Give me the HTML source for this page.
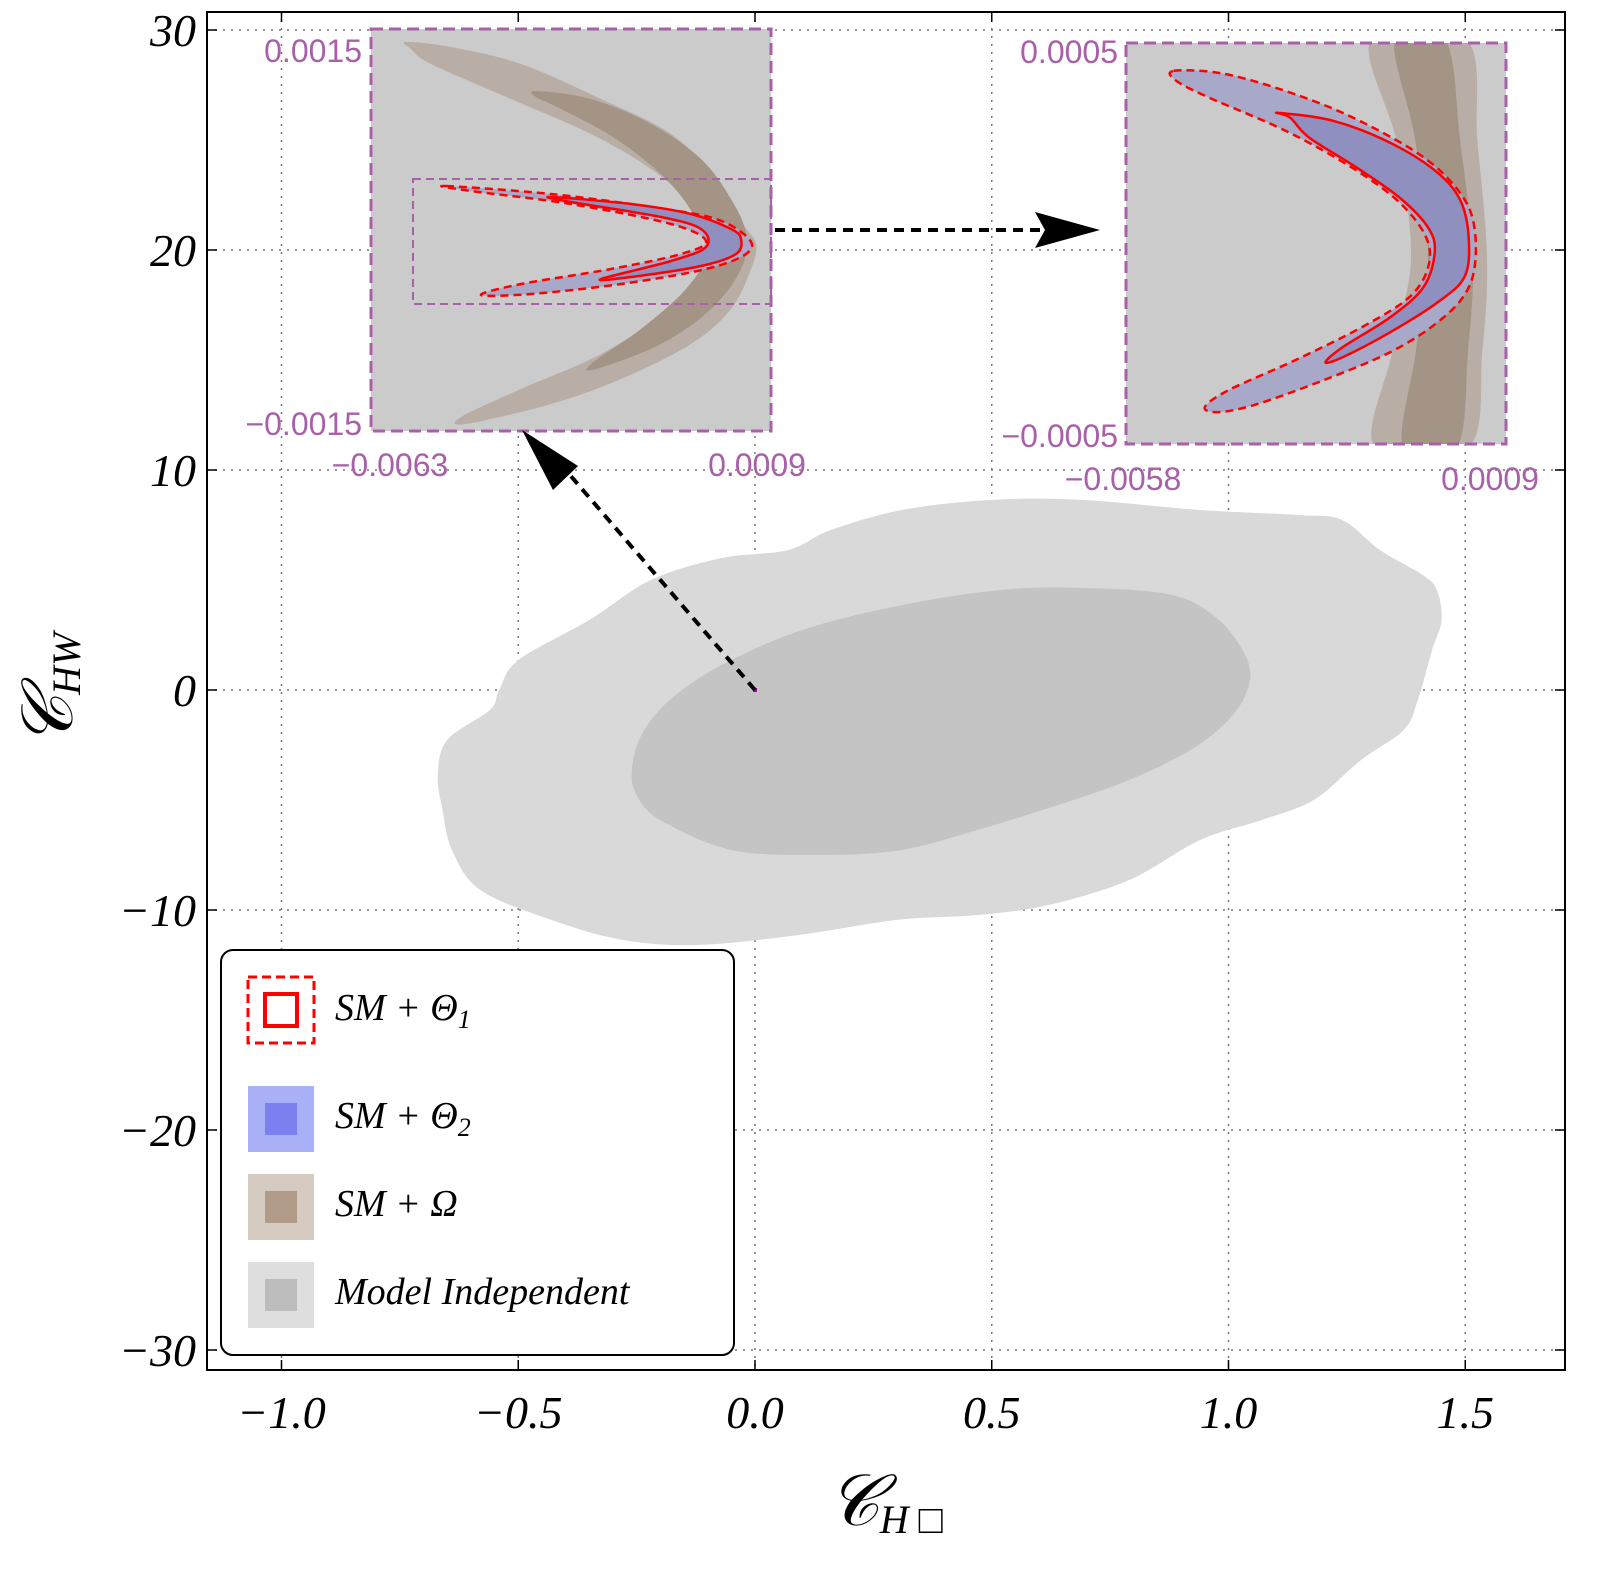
<!DOCTYPE html>
<html><head><meta charset="utf-8"><style>
body{margin:0;background:#fff;}
svg text{font-family:"Liberation Serif",serif;}
</style></head><body>
<svg id="chart" width="1600" height="1571" viewBox="0 0 1600 1571" xmlns="http://www.w3.org/2000/svg">
<g id="grid"></g>
<g id="main"></g>
<g id="inset1"></g>
<g id="inset2"></g>
<g id="axes"></g>
<g>
<line x1="755" y1="690" x2="557" y2="460" stroke="#000" stroke-width="4" stroke-dasharray="10,7"/>
<polygon points="522,430 578,466 553,490" fill="#000"/>
<line x1="775" y1="230" x2="1040" y2="230" stroke="#000" stroke-width="4" stroke-dasharray="10,7"/>
<polygon points="1100,230 1035,212 1045,230 1035,248" fill="#000"/>
</g>
<g>
<rect x="221" y="950" width="513" height="405" rx="12" fill="#fff" stroke="#000" stroke-width="2"/>
<rect x="248" y="977" width="66" height="66" fill="none" stroke="#f00" stroke-width="3" stroke-dasharray="9,5"/>
<rect x="265" y="994" width="32" height="32" fill="none" stroke="#f00" stroke-width="4"/>
<text x="335" y="1020" font-size="38" font-style="italic">SM + Θ<tspan font-size="26" dy="8">1</tspan></text>
<rect x="248" y="1086" width="66" height="66" fill="#aab0f5"/><rect x="265" y="1103" width="32" height="32" fill="#7b7ff0"/>
<text x="335" y="1128" font-size="38" font-style="italic">SM + Θ<tspan font-size="26" dy="8">2</tspan></text>
<rect x="248" y="1174" width="66" height="66" fill="#d6cbc0"/><rect x="265" y="1191" width="32" height="32" fill="#b09a88"/>
<text x="335" y="1216" font-size="38" font-style="italic">SM + Ω</text>
<rect x="248" y="1262" width="66" height="66" fill="#dedede"/><rect x="265" y="1279" width="32" height="32" fill="#bdbdbd"/>
<text x="335" y="1304" font-size="38" font-style="italic">Model Independent</text>
</g>
</svg>
<script>
const NS="http://www.w3.org/2000/svg";
const xTicks=[-1.0,-0.5,0.0,0.5,1.0,1.5];
const xTickLabels=["−1.0","−0.5","0.0","0.5","1.0","1.5"];
const yTicks=[-30,-20,-10,0,10,20,30];
const yTickLabels=["−30","−20","−10","0","10","20","30"];
// main contours [CHbox, CHW]
const outerX=[-0.67,-0.65,-0.56,-0.54,-0.5,-0.35,-0.22,-0.07,0.07,0.16,0.31,0.5,0.69,0.94,1.15,1.24,1.32,1.41,1.44,1.45,1.43,1.4,1.37,1.28,1.18,1.07,0.94,0.79,0.62,0.47,0.3,0.09,-0.12,-0.28,-0.43,-0.58,-0.64,-0.66];
const outerY=[-3.86,-2.27,-0.91,0,1.36,3.18,5,6,6.36,7.27,8.18,8.64,8.64,8.18,7.95,7.73,6.36,5.23,4.55,3.18,1.82,-0.45,-1.82,-3.18,-5,-5.91,-6.82,-8.64,-9.77,-10.23,-10.45,-11.14,-11.59,-11.36,-10.45,-9.09,-7.27,-5.45];
const innerX=[-0.26,-0.24,-0.18,-0.07,0.1,0.31,0.52,0.69,0.88,0.98,1.04,1.04,1.0,0.92,0.79,0.64,0.47,0.31,0.14,-0.05,-0.2,-0.25];
const innerY=[-3.64,-2.05,-0.45,1.14,2.73,3.86,4.55,4.64,4.32,3.18,1.36,0,-1.36,-2.73,-4.09,-5.23,-6.36,-7.27,-7.5,-7.27,-5.91,-4.77];
// inset contours in inset-local units (0..400)
const i1BrownOut=[[35,13],[80,18],[150,35],[230,70],[300,105],[345,150],[372,195],[385,215],[380,240],[360,280],[320,315],[250,350],[180,375],[95,395],[90,388],[150,360],[230,325],[300,280],[340,240],[345,215],[320,175],[280,140],[220,105],[140,70],[60,35],[40,20]];
const i1BrownIn=[[165,62],[220,70],[280,95],[330,130],[360,170],[375,205],[370,240],[340,280],[290,315],[225,340],[220,335],[270,300],[315,260],[335,225],[325,190],[295,150],[245,110],[190,80],[165,68]];
const i1Blue=[[75,157],[180,165],[280,178],[345,190],[378,210],[375,225],[335,240],[250,255],[160,265],[110,266],[150,255],[240,240],[310,225],[335,212],[300,195],[200,175],[100,162]];
const i1Red=[[180,168],[260,175],[320,185],[360,200],[370,210],[365,225],[330,237],[260,248],[230,250],[300,232],[335,218],[330,200],[290,188],[200,173]];
const i2BrownOut=[[258,-4],[358,-4],[370,100],[380,215],[375,310],[360,406],[262,406],[280,310],[300,215],[285,100]];
const i2BrownIn=[[283,-4],[336,-4],[352,100],[365,215],[360,310],[348,406],[292,406],[305,310],[318,215],[305,100]];
const i2Blue=[[50,28],[98,30],[158,45],[228,70],[298,105],[338,135],[363,170],[368,215],[358,250],[328,280],[278,310],[208,338],[138,362],[98,370],[83,365],[108,348],[178,318],[248,285],[298,255],[318,225],[316,195],[288,160],[238,125],[168,88],[88,55],[53,38]];
const i2Red=[[160,70],[218,78],[278,100],[328,130],[353,160],[361,200],[356,235],[328,260],[278,290],[228,315],[210,320],[228,305],[278,275],[313,245],[325,210],[318,185],[288,155],[243,125],[193,95],[173,75]];

const X0=207,X1=1565,Y0=12,Y1=1370;
const sx=v=>755+v*473.5, sy=v=>690-v*22;
function el(p,tag,attrs){const e=document.createElementNS(NS,tag);for(const k in attrs)e.setAttribute(k,attrs[k]);p.appendChild(e);return e;}
function smooth(P){const n=P.length;let d='M'+P[0][0]+','+P[0][1];
 for(let i=0;i<n;i++){const p0=P[(i-1+n)%n],p1=P[i],p2=P[(i+1)%n],p3=P[(i+2)%n];
 d+=' C'+(p1[0]+(p2[0]-p0[0])/6)+','+(p1[1]+(p2[1]-p0[1])/6)+' '+(p2[0]-(p3[0]-p1[0])/6)+','+(p2[1]-(p3[1]-p1[1])/6)+' '+p2[0]+','+p2[1];}
 return d+'Z';}
const grid=document.getElementById('grid'),axes=document.getElementById('axes'),main=document.getElementById('main');
xTicks.forEach(v=>{const l=el(grid,'line',{x1:sx(v),x2:sx(v),y1:Y0,y2:Y1,stroke:'#777','stroke-width':1.5,'stroke-dasharray':'2,6'});
});
yTicks.forEach(v=>{const l=el(grid,'line',{x1:X0,x2:X1,y1:sy(v),y2:sy(v),stroke:'#777','stroke-width':1.5,'stroke-dasharray':'2,6'});
});
function poly(p,xs,ys,fill,name){const pts=xs.map((x,i)=>[sx(x),sy(ys[i])]);const e=el(p,'path',{d:smooth(pts),fill:fill});
}
poly(main,outerX,outerY,'#d9d9d9','model-independent-outer');
poly(main,innerX,innerY,'#c4c4c4','model-independent-inner');
el(main,'rect',{x:753,y:688,width:4,height:4,fill:'#a0a'});
function inset(id,ox,oy,w,h,sets,inner){
 const g=document.getElementById(id);
 const r=el(g,'rect',{x:ox,y:oy,width:w,height:h,fill:'#cbcbcb'});
 
 const cp=el(g,'clipPath',{id:id+'-clip'});el(cp,'rect',{x:ox,y:oy,width:w,height:h});
 const cg=el(g,'g',{'clip-path':'url(#'+id+'-clip)'});
 const kx=w/400,ky=h/402;
 sets.forEach(([pts,fill,stroke,dash,sw,name])=>{const e=el(cg,'path',{d:smooth(pts.map(p=>[ox+p[0]*kx,oy+p[1]*ky])),fill:fill,stroke:stroke,'stroke-width':sw,'stroke-dasharray':dash,'stroke-linejoin':'round'});
 });
 if(inner){const e=el(g,'rect',{x:ox+42*kx,y:oy+150*ky,width:358*kx,height:125*ky,fill:'none',stroke:'#a860a8','stroke-width':2,'stroke-dasharray':'8,5'});
 }
 const b=el(g,'rect',{x:ox,y:oy,width:w,height:h,fill:'none',stroke:'#a860a8','stroke-width':3,'stroke-dasharray':'12,6'});
 
}
inset('inset1',371,29,400,402,[[i1BrownOut,'#b8aea5','none','',0,'omega-outer'],[i1BrownIn,'#a39486','none','',0,'omega-inner'],[i1Blue,'#a8a8c8','#f00','8,5',2.5,'theta1-outer'],[i1Red,'#8f8fc0','#f00','',2.5,'theta1-inner']],true);
inset('inset2',1126,43,380,401,[[i2BrownOut,'#b8aea5','none','',0,'omega-outer'],[i2BrownIn,'#a39486','none','',0,'omega-inner'],[i2Blue,'#a8a8c8','#f00','8,5',2.5,'theta1-outer'],[i2Red,'#8f8fc0','#f00','',2.5,'theta1-inner']],false);
const il=[[362,62,'0.0015','end'],[362,435,'−0.0015','end'],[390,476,'−0.0063','middle'],[757,476,'0.0009','middle'],[1118,63,'0.0005','end'],[1118,447,'−0.0005','end'],[1123,490,'−0.0058','middle'],[1490,490,'0.0009','middle']];
il.forEach(([x,y,t,a])=>{const e=el(axes,'text',{x:x,y:y,'font-size':32,fill:'#a860a8','text-anchor':a,style:'font-family:"Liberation Sans",sans-serif'});e.textContent=t;
});
const fr=el(axes,'rect',{x:X0,y:Y0,width:X1-X0,height:Y1-Y0,fill:'none',stroke:'#000','stroke-width':2});

xTicks.forEach((v,i)=>{el(axes,'line',{x1:sx(v),x2:sx(v),y1:Y1,y2:Y1-10,stroke:'#000','stroke-width':1.5});el(axes,'line',{x1:sx(v),x2:sx(v),y1:Y0,y2:Y0+10,stroke:'#000','stroke-width':1.5});
 const t=el(axes,'text',{x:sx(v),y:1428,'font-size':46,'font-style':'italic','text-anchor':'middle'});t.textContent=xTickLabels[i];
 });
yTicks.forEach((v,i)=>{el(axes,'line',{x1:X0,x2:X0+10,y1:sy(v),y2:sy(v),stroke:'#000','stroke-width':1.5});el(axes,'line',{x1:X1,x2:X1-10,y1:sy(v),y2:sy(v),stroke:'#000','stroke-width':1.5});
 const t=el(axes,'text',{x:196,y:sy(v)+16,'font-size':46,'font-style':'italic','text-anchor':'end'});t.textContent=yTickLabels[i];
 });
const xt=el(axes,'text',{x:885,y:1525,'font-size':72,'font-style':'italic','text-anchor':'middle'});xt.innerHTML='𝒞<tspan font-size="40" dy="8">H □</tspan>';

const yt=el(axes,'text',{x:0,y:0,'font-size':72,'font-style':'italic','text-anchor':'middle',transform:'translate(72,690) rotate(-90)'});yt.innerHTML='𝒞<tspan font-size="40" dy="8">HW</tspan>';

</script>
</body></html>
